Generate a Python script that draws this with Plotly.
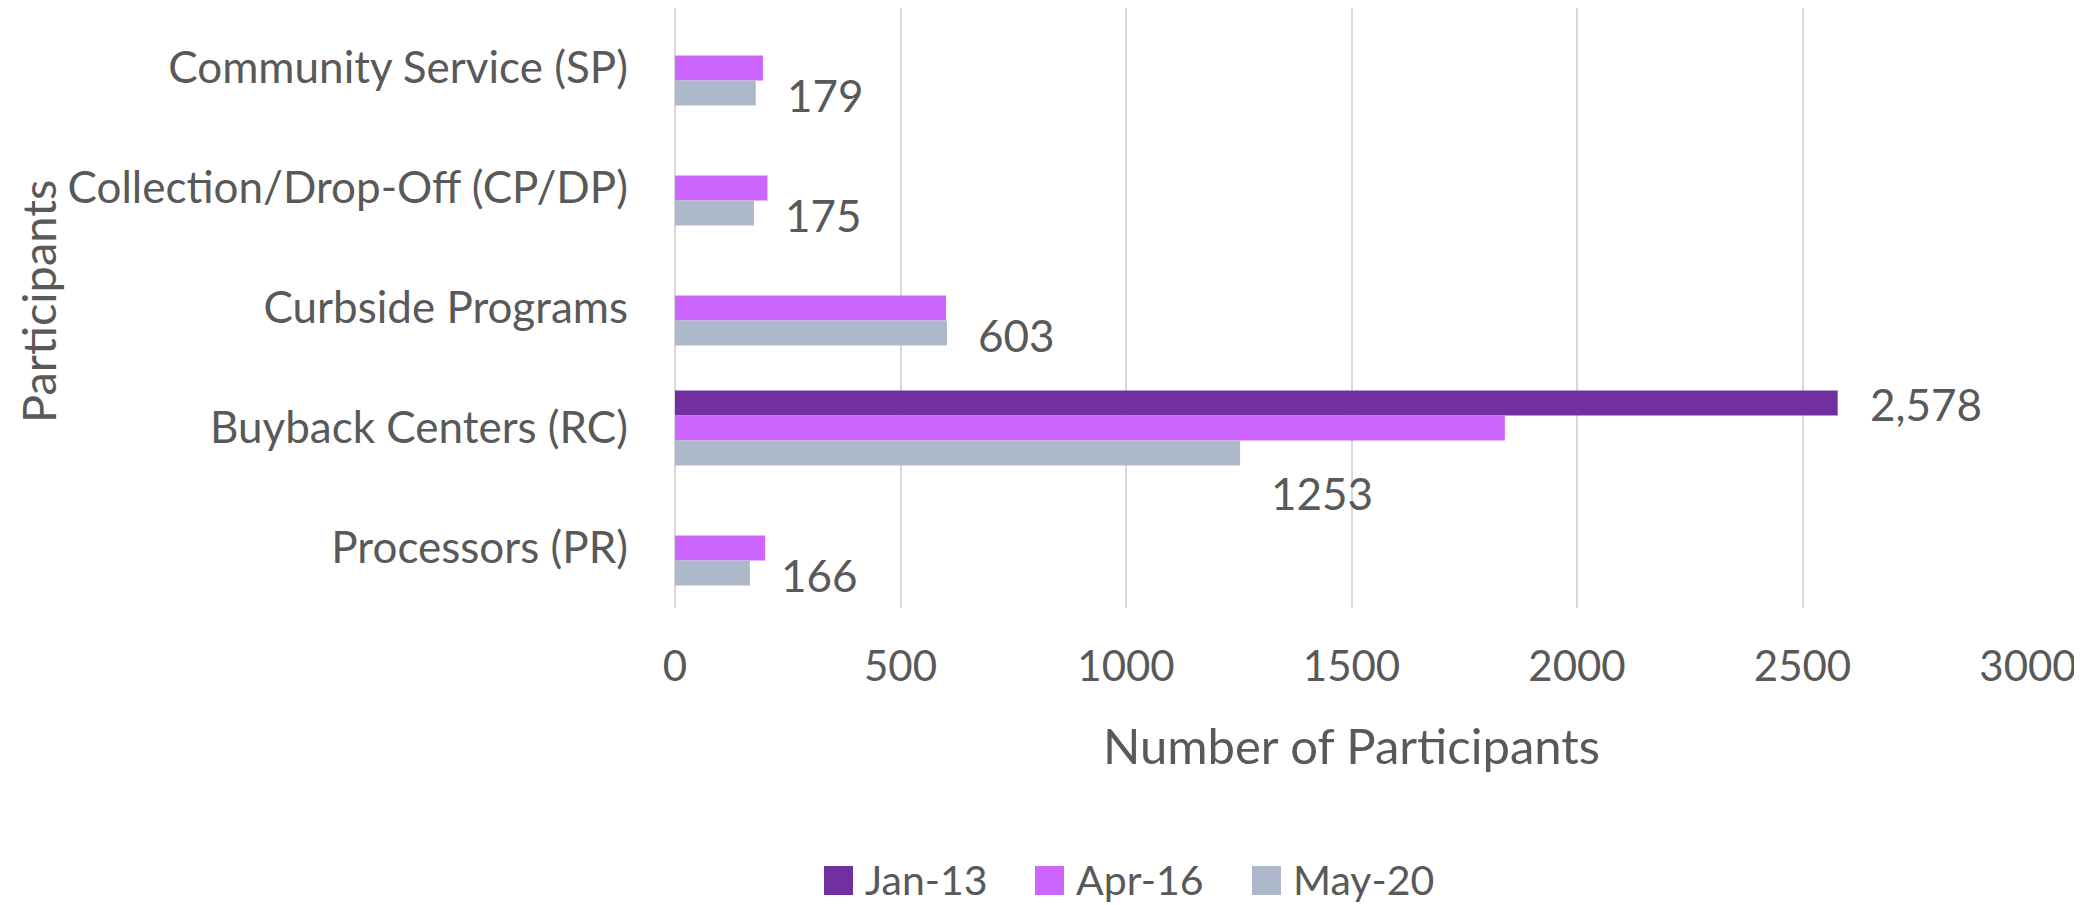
import plotly.graph_objects as go

# data (top to bottom)
categories = ["Community Service (SP)", "Collection/Drop-Off (CP/DP)", "Curbside Programs",
              "Buyback Centers (RC)", "Processors (PR)"]
series_names = ["Jan-13", "Apr-16", "May-20"]
jan13 = [None, None, None, 2578, None]
apr16 = [195, 205, 601, 1840, 200]
may20 = [179, 175, 603, 1253, 166]
x_ticks = [0, 500, 1000, 1500, 2000, 2500, 3000]

colors = ["#7030A0", "#CC66FF", "#ADB9CA"]
txt = "#595959"
FONT = "Lato"

# page body has an 8px margin, so the figure is a bit smaller than the window
W, H = 2074, 897
L, R, T, B = 667, 54, 0, 297

fig = go.Figure()
for name, vals, col in zip(series_names, [jan13, apr16, may20], colors):
    fig.add_trace(go.Bar(y=categories, x=vals, name=name, orientation="h",
                         marker=dict(color=col, line=dict(width=0)), showlegend=False))

# data labels (Jan-13 next to its bar, May-20 offset like the Excel labels)
for c, v in zip(categories, jan13):
    if v is not None:
        fig.add_annotation(x=v, y=c, text=f"{v:,}", showarrow=False, xanchor="left",
                           xshift=30, yshift=24, font=dict(family=FONT, size=44, color=txt))
for c, v in zip(categories, may20):
    dy = -65 if v == max(may20) else -27
    fig.add_annotation(x=v, y=c, text=str(v), showarrow=False, xanchor="left",
                       xshift=29, yshift=dy, font=dict(family=FONT, size=44, color=txt))

# page-pixel -> paper helpers
pw, ph = W - L - R, H - T - B
def px(x):
    return (x - 8 - L) / pw
def py(y):
    return (H - B - (y - 8)) / ph

# y axis title, kept inside the left edge
fig.add_annotation(xref="paper", yref="paper", x=px(8), y=py(302), text="Participants",
                   textangle=-90, showarrow=False, xanchor="left", yanchor="middle",
                   font=dict(family=FONT, size=47, color=txt))

# hand-made legend so the swatches can be as big as Excel's
sw_left = [824, 1035, 1252]
for name, col, x0 in zip(series_names, colors, sw_left):
    fig.add_shape(type="rect", xref="paper", yref="paper", x0=px(x0), x1=px(x0 + 29),
                  y0=py(895), y1=py(866), fillcolor=col, line=dict(width=0))
    fig.add_annotation(xref="paper", yref="paper", x=px(x0 + 39), y=py(879), text=name,
                       showarrow=False, xanchor="left", yanchor="middle",
                       font=dict(family=FONT, size=41, color=txt))

fig.update_layout(
    width=W, height=H,
    margin=dict(l=L, r=R, t=T, b=B, autoexpand=False),
    barmode="group", bargap=0.375, bargroupgap=0,
    plot_bgcolor="white", paper_bgcolor="white",
    font=dict(family=FONT, size=44, color=txt),
    xaxis=dict(range=[0, 3000], tickvals=x_ticks, showgrid=True, gridcolor="#D9D9D9",
               gridwidth=2, zeroline=True, zerolinecolor="#D9D9D9", zerolinewidth=2,
               showline=False, ticks="", ticklabelstandoff=30, tickfont=dict(size=42),
               title=dict(text="Number of Participants", font=dict(size=49), standoff=40)),
    yaxis=dict(categoryorder="array", categoryarray=categories, range=[4.5, -0.5],
               showgrid=False, zeroline=False, showline=False, ticks="",
               ticklabelstandoff=46),
)

fig.write_html("out.html")
